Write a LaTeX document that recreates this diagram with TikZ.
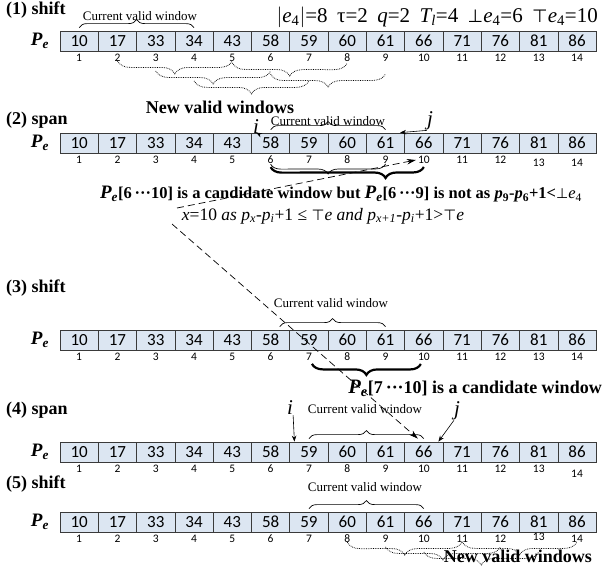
\documentclass[tikz,border=0pt]{standalone}
\usepackage{fontspec}
\setmainfont{Liberation Serif}
\newfontfamily\numfont{Carlito}
\newfontfamily\symfont{DejaVu Sans}
\usetikzlibrary{decorations.pathreplacing,arrows.meta,calc}

\definecolor{boxfill}{HTML}{DCE6F2}
\definecolor{boxline}{HTML}{3A3A3A}

\newcommand\fs[1]{\fontsize{#1}{#1}\selectfont}
\newcommand\Pe{{\bfseries\itshape P\textsubscript{e}}}
\newcommand\tp{{\mdseries\upshape\symfont\scalebox{0.85}{⊤}}}
\newcommand\bt{{\mdseries\upshape\symfont\scalebox{0.85}{⊥}}}
\newcommand\gap{\hspace{0.45em}}

\tikzset{
  cellbox/.style={draw=boxline, fill=boxfill, line width=0.8pt,
    minimum width=38.3pt, minimum height=20pt, inner sep=0pt,
    font=\numfont\fs{17}},
  idx/.style={inner sep=0pt, font=\numfont\fs{11.5}},
  steplabel/.style={anchor=west, inner sep=0pt, font=\bfseries\fs{18}},
  pelabel/.style={inner sep=0pt, font=\fs{19}},
  cvw/.style={inner sep=0pt, font=\fs{13}},
  newwin/.style={inner sep=0pt, font=\bfseries\fs{18}},
  upbrace/.style={decorate, decoration={brace, amplitude=8pt}, line width=0.7pt},
  downbrace/.style={decorate, decoration={brace, mirror, amplitude=10pt}, line width=0.7pt},
  boldbrace/.style={decorate, decoration={brace, mirror, amplitude=11pt}, line width=2.2pt},
  dotbrace/.style={decorate, decoration={brace, mirror, amplitude=13pt}, line width=0.75pt, densely dotted},
  pointer/.style={-{Stealth[length=6pt,width=4.5pt]}, line width=0.6pt},
  dasharrow/.style={-{Stealth[length=9pt,width=5.5pt]}, dash pattern=on 7pt off 4pt, line width=0.7pt},
  ijlabel/.style={inner sep=0pt, font=\itshape\fs{21}},
}

% one row of the position list P_e with its index numbers;
% #3 is an extra vertical offset of an index number, as a function of \k
\newcommand\pelist[3]{%
  \node[pelabel] (#1p) at (40,#2) {\Pe};
  \foreach \v [count=\k] in {10,17,33,34,43,58,59,60,61,66,71,76,81,86} {
    \node[cellbox] (#1c\k) at ({60+(\k-0.5)*38.3},#2) {\v};
    \node[idx] (#1n\k) at ({60+(\k-0.5)*38.3},{#2+17+#3}) {\k};
  }%
}

\begin{document}
\begin{tikzpicture}[x=1pt,y=-1pt]
\useasboundingbox (0,0) rectangle (605,568);

% ---------------- (1) shift ----------------
\node[steplabel] (s1) at (6,10) {(1) shift};
\node[inner sep=0pt, font=\fs{21}, anchor=east] (par) at (598,17)
  {$|$\textit{e}\textsubscript{4}$|$=8\gap τ=2\gap \textit{q}=2\gap \textit{T\textsubscript{l}}=4\gap \bt\textit{e}\textsubscript{4}=6\gap \tp\textit{e}\textsubscript{4}=10};
\pelist{a}{41}{0}
\node[cvw] (a-cvw) at (140,16) {Current valid window};
\draw[upbrace] ($(ac1.north)+(0,-3)$) -- ($(ac4.north)+(0,-3)$);
\draw[dotbrace] ($(an2.south)+(0,-1)$) -- ($(an5.south)+(0,-1)$);
\draw[dotbrace] ($(an3.south)+(0,9)$) -- ($(an6.south)+(0,9)$);
\draw[dotbrace] ($(an4.south)+(0,19)$) -- ($(an7.south)+(0,19)$);
\draw[dotbrace] ($(an5.south)+(0,1)$) -- ($(an8.south)+(0,1)$);
\draw[dotbrace] ($(an6.south)+(0,12)$) -- ($(an9.south)+(0,12)$);
\node[newwin] (a-new) at (220,107) {New valid windows};

% ---------------- (2) span ----------------
\node[steplabel] (s2) at (6,120) {(2) span};
\pelist{b}{143}{(\k>12)*2.5}
\node[cvw] (b-cvw) at (328,121) {Current valid window};
\draw[upbrace] ($(bc6.north)+(0,-3)$) -- ($(bc9.north)+(0,-3)$);
\node[ijlabel] (bi) at (256,127) {i};
\node[ijlabel] (bj) at (430,121) {j};
\draw[pointer] (bi.south east) -- ($(bc6.north west)+(5,0)$);
\draw[pointer] (bj.south west) -- ($(bc9.north east)+(-5,0)$);
\draw[downbrace] ($(bn6.south)+(0,0)$) -- ($(bn9.south)+(0,0)$);
\draw[boldbrace, decoration={aspect=0.75}] ($(bn6.south)+(0,3)$) -- ($(bn10.south)+(0,3)$);
\node[inner sep=0pt, font=\bfseries\fs{16.5}] (b-cand) at (341,194)
  {{\fs{19}\Pe}[6\,···10] is a candidate window but {\fs{19}\Pe}[6\,···9] is not as \textit{p}\textsubscript{9}-\textit{p}\textsubscript{6}+1<\bt\textit{\mdseries e}\textsubscript{\mdseries 4}};
\node[inner sep=0pt, font=\fs{17.5}] (b-x) at (323,216)
  {\textit{x}=10 \textit{as p\textsubscript{x}-p\textsubscript{i}}+1 ≤ \tp\textit{e and p\textsubscript{x+1}-p\textsubscript{i}}+1>\tp\textit{e}};
\coordinate (xfoot) at (172,224);
\draw[dasharrow] (177,208) -- ($(bn10.west)+(-2,0)$);

% ---------------- (3) shift ----------------
\node[steplabel] (s3) at (6,288) {(3) shift};
\pelist{c}{340}{0}
\node[cvw] (c-cvw) at (331,303) {Current valid window};
\draw[upbrace] ($(cc6.north)+(9,-3)$) -- ($(cc9.north)+(0,-3)$);
\draw[boldbrace] ($(cn7.south)+(3,3)$) -- ($(cn10.south)+(-3,3)$);
\node[inner sep=0pt, font=\bfseries\fs{18}, anchor=east] (c-cand) at (602,388)
  {{\fs{20.5}\Pe}[7\,···10] is a candidate window};

% ---------------- (4) span ----------------
\node[steplabel] (s4) at (6,410) {(4) span};
\pelist{d}{452}{(\k==14)*4.5}
\node[cvw] (d-cvw) at (365,409) {Current valid window};
\draw[upbrace] ($(dc7.north)+(0,-3)$) -- ($(dc10.north)+(0,-3)$);
\node[ijlabel] (di) at (290,408) {i};
\node[ijlabel] (dj) at (457,411) {j};
\draw[pointer] (di.south east) -- ($(dc7.north west)+(5,0)$);
\draw[pointer] (dj.south west) -- ($(dc10.north east)+(-5,0)$);
\draw[dasharrow] (xfoot) -- ($(dc10.north)+(-6,-3)$);

% ---------------- (5) shift ----------------
\node[steplabel] (s5) at (6,484) {(5) shift};
\pelist{e}{522}{(\k==13)*(-2)}
\node[cvw] (e-cvw) at (365,487) {Current valid window};
\draw[upbrace] ($(ec7.north)+(0,-3)$) -- ($(ec10.north)+(0,-3)$);
\draw[dotbrace] ($(en8.south)+(0,-1)$) -- ($(en11.south)+(0,-1)$);
\draw[dotbrace] ($(en9.south)+(0,4)$) -- ($(en12.south)+(0,4)$);
\draw[dotbrace] ($(en10.south)+(0,9)$) -- ($(en13.south)+(0,11)$);
\draw[dotbrace] ($(en11.south)+(0,-1)$) -- ($(en14.south)+(0,-1)$);
\node[newwin, anchor=east] (e-new) at (592,556) {New valid windows};
\end{tikzpicture}
\end{document}
